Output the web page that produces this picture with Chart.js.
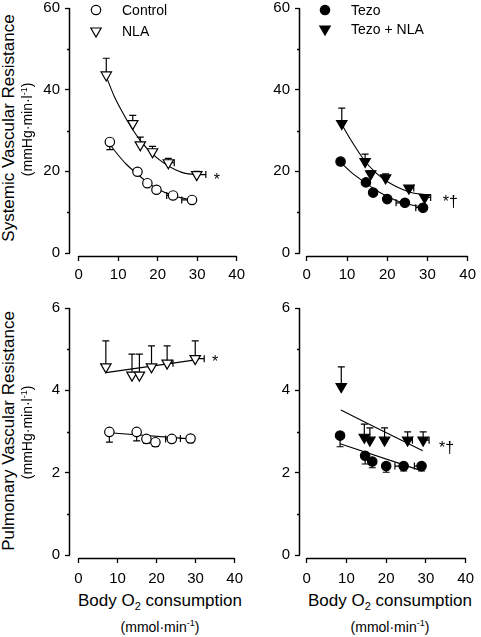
<!DOCTYPE html>
<html>
<head>
<meta charset="utf-8">
<script src="https://cdn.jsdelivr.net/npm/chart.js@4.4.0/dist/chart.umd.min.js"></script>
<style>
  body { margin: 0; width: 481px; height: 637px; background: #fff; position: relative; overflow: hidden;
         font-family: "Liberation Sans", Arial, sans-serif; color: #000; }
  canvas { position: absolute; }
  .rot { position: absolute; white-space: nowrap; text-align: center; transform: rotate(-90deg); }
  .xt { position: absolute; white-space: nowrap; text-align: center; }
  sub, sup { font-size: 65%; }
</style>
</head>
<body>
<canvas id="tl" width="220" height="296" style="left:30px;top:-6px"></canvas>
<canvas id="tr" width="221" height="296" style="left:260px;top:-6px"></canvas>
<canvas id="bl" width="220" height="296" style="left:30px;top:294px"></canvas>
<canvas id="br" width="221" height="296" style="left:260px;top:294px"></canvas>

<div class="rot" style="font-size:17px;width:300px;left:-141px;top:118px">Systemic Vascular Resistance</div>
<div class="rot" style="font-size:14px;width:200px;left:-73px;top:121px">(mmHg·min·l<sup>-1</sup>)</div>
<div class="rot" style="font-size:17px;width:300px;left:-141px;top:421px">Pulmonary Vascular Resistance</div>
<div class="rot" style="font-size:14px;width:200px;left:-73px;top:424px">(mmHg·min·l<sup>-1</sup>)</div>

<div class="xt" style="font-size:17px;width:240px;left:40px;top:591px">Body O<sub>2</sub> consumption</div>
<div class="xt" style="font-size:14px;width:240px;left:40px;top:618px">(mmol·min<sup>-1</sup>)</div>
<div class="xt" style="font-size:17px;width:240px;left:270px;top:591px">Body O<sub>2</sub> consumption</div>
<div class="xt" style="font-size:14px;width:240px;left:270px;top:618px">(mmol·min<sup>-1</sup>)</div>

<script>
// axes
const xTicks = [0, 10, 20, 30, 40];
const svrTicks = [0, 20, 40, 60];
const svrMinor = [10, 30, 50];
const pvrTicks = [0, 2, 4, 6];
const pvrMinor = [1, 3, 5];

// body O2 consumption (x) and its one-sided SEM
const ctlVO2 = [7.9, 14.9, 17.4, 19.7, 23.9, 28.7];
const ctlVO2Err = [0, 0, 0, 0, 1.6, 2.6];      // to the left
const nlaVO2 = [7.0, 13.7, 15.6, 18.7, 22.7, 29.9];
const nlaVO2Err = [0, 0, 0, 0, 1.5, 2.3];      // to the right
const tezoVO2 = [8.4, 14.7, 16.5, 20.0, 24.4, 28.9];
const tezoVO2Err = [0, 0, 0, 0, 2.2, 1.8];     // to the left
const tnVO2 = [8.7, 14.5, 15.9, 19.6, 25.4, 29.3];
const tnVO2Err = [0, 0, 0, 0, 1.2, 1.5];       // to the right

// systemic vascular resistance
const ctlSVR = [27.2, 19.9, 17.1, 15.5, 14.1, 13.0];
const ctlSVRErr = [1.9, 0.6, 0.5, 0.5, 0.5, 0.4];
const nlaSVR = [43.6, 31.7, 26.5, 24.8, 22.1, 19.2];
const nlaSVRErr = [4.1, 2.0, 1.9, 1.3, 1.1, 0.8];
const tezoSVR = [22.4, 17.3, 14.8, 13.2, 12.3, 11.1];
const tezoSVRErr = [0.8, 0.6, 0.5, 0.4, 0.4, 0.4];
const tnSVR = [31.7, 22.4, 19.4, 18.4, 15.9, 13.6];
const tnSVRErr = [3.8, 1.8, 0.8, 1.0, 0.6, 0.5];

// pulmonary vascular resistance
const ctlPVR = [2.99, 2.99, 2.82, 2.74, 2.82, 2.83];
const ctlPVRErr = [0.25, 0.22, 0.1, 0.1, 0.05, 0.1];
const nlaPVR = [4.57, 4.37, 4.37, 4.57, 4.66, 4.77];
const nlaPVRErr = [0.63, 0.51, 0.51, 0.51, 0.42, 0.43];
const tezoPVR = [2.90, 2.41, 2.27, 2.16, 2.16, 2.16];
const tezoPVRErr = [0.27, 0.2, 0.15, 0.15, 0.12, 0.12];
const tnPVR = [4.09, 2.86, 2.79, 2.79, 2.79, 2.79];
const tnPVRErr = [0.48, 0.32, 0.3, 0.3, 0.2, 0.2];

// fitted curves / regression lines
const ctlSVRFitX = [7.9, 10, 12, 14.8, 17.4, 20, 24, 28.7];
const ctlSVRFitY = [26.6, 24.0, 21.8, 19.4, 17.3, 15.7, 14.0, 13.0];
const nlaSVRFitX = [7.0, 9.1, 11.2, 13.2, 15.6, 18.4, 21.3, 24.5, 27.0, 30.1];
const nlaSVRFitY = [43.2, 38.2, 34.3, 31.0, 27.6, 24.5, 22.2, 20.4, 19.5, 19.2];
const tezoSVRFitX = [8.4, 11, 14.4, 18.4, 23.2, 28.9];
const tezoSVRFitY = [22.2, 19.8, 17.3, 14.7, 12.5, 11.2];
const tnSVRFitX = [8.7, 11, 14.4, 16.8, 19, 21.6, 24, 26.4, 29.3];
const tnSVRFitY = [31.5, 27.6, 22.6, 20.0, 18.2, 16.6, 15.5, 14.7, 14.3];
const ctlPVRFitX = [7.9, 28.7];
const ctlPVRFitY = [2.97, 2.82];
const nlaPVRFitX = [7.0, 30.0];
const nlaPVRFitY = [4.43, 4.74];
const tezoPVRFitX = [8.4, 28.8];
const tezoPVRFitY = [2.70, 2.05];
const tnPVRFitX = [8.6, 29.2];
const tnPVRFitY = [3.52, 2.53];

const pts = (xs, ys) => xs.map((v, i) => ({ x: v, y: ys[i] }));
const FONT = '"Liberation Sans", Arial, sans-serif';

function marker(ctx, style, x, y, r, fill) {
  ctx.beginPath();
  if (style === 'circle') {
    ctx.arc(x, y, r, 0, Math.PI * 2);
  } else {
    // downward triangle
    ctx.moveTo(x - r * 0.866, y - r * 0.5);
    ctx.lineTo(x + r * 0.866, y - r * 0.5);
    ctx.lineTo(x, y + r);
    ctx.closePath();
  }
  ctx.fillStyle = fill;
  ctx.fill();
  ctx.stroke();
}

const deco = {
  id: 'deco',
  beforeDatasetsDraw(chart, args, o) {
    const { ctx, chartArea: a, scales: { x, y } } = chart;
    ctx.save();
    ctx.strokeStyle = '#000';
    ctx.lineWidth = 1.5;
    ctx.beginPath();
    ctx.moveTo(x.getPixelForValue(xTicks[0]), a.bottom + 0.5);
    ctx.lineTo(x.getPixelForValue(xTicks[xTicks.length - 1]), a.bottom + 0.5);
    ctx.moveTo(a.left - 0.5, y.getPixelForValue(o.yTicks[0]));
    ctx.lineTo(a.left - 0.5, y.getPixelForValue(o.yTicks[o.yTicks.length - 1]));
    o.yMinor.forEach(v => {
      const py = Math.round(y.getPixelForValue(v)) + 0.5;
      ctx.moveTo(a.left - 3, py);
      ctx.lineTo(a.left, py);
    });
    ctx.stroke();

    ctx.lineWidth = 1.2;
    ctx.beginPath();
    o.errors.forEach(e => {
      e.x.forEach((xv, i) => {
        const px = x.getPixelForValue(xv), py = y.getPixelForValue(e.y[i]);
        if (e.yErr[i]) {
          const ey = y.getPixelForValue(e.y[i] + e.yDir * e.yErr[i]);
          ctx.moveTo(px, py); ctx.lineTo(px, ey);
          ctx.moveTo(px - 3.5, ey); ctx.lineTo(px + 3.5, ey);
        }
        if (e.xErr[i]) {
          const ex = x.getPixelForValue(xv + e.xDir * e.xErr[i]);
          ctx.moveTo(px, py); ctx.lineTo(ex, py);
          ctx.moveTo(ex, py - 3.5); ctx.lineTo(ex, py + 3.5);
        }
      });
    });
    ctx.stroke();
    ctx.restore();
  },
  afterDraw(chart, args, o) {
    const { ctx, chartArea: a, scales: { x, y } } = chart;
    ctx.save();
    ctx.strokeStyle = '#000';
    ctx.lineWidth = 1.2;
    o.legend.forEach((l, i) => {
      const ly = a.top + 2 + i * o.legendGap;
      const mx = a.left + o.legendX;
      marker(ctx, l.style, mx, ly, l.style === 'circle' ? 4.7 : 6, l.fill);
      ctx.fillStyle = '#000';
      ctx.font = '14px ' + FONT;
      ctx.textBaseline = 'middle';
      ctx.fillText(l.label, mx + 26, ly + 1);
    });
    ctx.font = '16px ' + FONT;
    ctx.textAlign = 'center';
    ctx.textBaseline = 'middle';
    ctx.fillStyle = '#000';
    ctx.fillText(o.mark.text, x.getPixelForValue(o.mark.x), y.getPixelForValue(o.mark.y) + 3);
    ctx.restore();
  }
};

function fitSet(xs, ys) {
  return { data: pts(xs, ys), showLine: true, pointRadius: 0, borderColor: '#000', borderWidth: 1.1,
           cubicInterpolationMode: 'monotone', order: 2 };
}
function pointSet(xs, ys, style, fill) {
  const tri = style !== 'circle';
  return { data: pts(xs, ys), showLine: false, pointStyle: tri ? 'triangle' : 'circle',
           pointRotation: tri ? 180 : 0, pointRadius: tri ? 6 : 4.7, pointBorderWidth: 1.2,
           pointBackgroundColor: fill, pointBorderColor: '#000', order: 1 };
}

function panel(id, p) {
  const yPx = (p.yBottom - p.yTop) / (p.yTicks[p.yTicks.length - 1]);
  const xPx = (p.xEnd - p.xStart) / 40;
  new Chart(document.getElementById(id), {
    type: 'scatter',
    data: { datasets: p.datasets },
    options: {
      responsive: false,
      animation: false,
      events: [],
      layout: { autoPadding: false, padding: { top: p.padTop, right: p.padRight, left: 0, bottom: 0 } },
      plugins: { legend: { display: false }, tooltip: { enabled: false }, deco: p.deco },
      scales: {
        x: {
          min: -p.xGap / xPx, max: 40,
          afterBuildTicks: s => { s.ticks = xTicks.map(v => ({ value: v })); },
          afterFit: s => { s.height = p.xHeight; },
          border: { display: false },
          grid: { drawOnChartArea: false, tickLength: 5, tickColor: '#000', tickWidth: 1.3 },
          ticks: { color: '#000', font: { family: FONT, size: 15 }, padding: p.xPad, maxRotation: 0 }
        },
        y: {
          min: -p.yGap / yPx, max: p.yTicks[p.yTicks.length - 1],
          afterBuildTicks: s => { s.ticks = p.yTicks.map(v => ({ value: v })); },
          afterFit: s => { s.width = 40; },
          border: { display: false },
          grid: { drawOnChartArea: false, tickLength: 5, tickColor: '#000', tickWidth: 1.3 },
          ticks: { color: '#000', font: { family: FONT, size: 15 }, padding: 5 }
        }
      }
    },
    plugins: [deco]
  });
}

panel('tl', {
  yTicks: svrTicks, yTop: 6, yBottom: 253, yGap: 3, xStart: 79, xEnd: 244, xGap: 9,
  padTop: 6, padRight: 6, xHeight: 34, xPad: 5,
  datasets: [fitSet(ctlSVRFitX, ctlSVRFitY), fitSet(nlaSVRFitX, nlaSVRFitY),
             pointSet(ctlVO2, ctlSVR, 'circle', '#fff'), pointSet(nlaVO2, nlaSVR, 'triangle', '#fff')],
  deco: {
    yTicks: svrTicks, yMinor: svrMinor,
    errors: [
      { x: ctlVO2, y: ctlSVR, yErr: ctlSVRErr, yDir: -1, xErr: ctlVO2Err, xDir: -1 },
      { x: nlaVO2, y: nlaSVR, yErr: nlaSVRErr, yDir: 1, xErr: nlaVO2Err, xDir: 1 }
    ],
    legend: [{ label: 'Control', style: 'circle', fill: '#fff' }, { label: 'NLA', style: 'triangle', fill: '#fff' }],
    legendX: 26, legendGap: 21,
    mark: { text: '*', x: 35, y: 18.5 }
  }
});

panel('tr', {
  yTicks: svrTicks, yTop: 6, yBottom: 253, yGap: 3, xStart: 307, xEnd: 473, xGap: 7,
  padTop: 6, padRight: 8, xHeight: 34, xPad: 5,
  datasets: [fitSet(tezoSVRFitX, tezoSVRFitY), fitSet(tnSVRFitX, tnSVRFitY),
             pointSet(tezoVO2, tezoSVR, 'circle', '#000'), pointSet(tnVO2, tnSVR, 'triangle', '#000')],
  deco: {
    yTicks: svrTicks, yMinor: svrMinor,
    errors: [
      { x: tezoVO2, y: tezoSVR, yErr: tezoSVRErr, yDir: -1, xErr: tezoVO2Err, xDir: -1 },
      { x: tnVO2, y: tnSVR, yErr: tnSVRErr, yDir: 1, xErr: tnVO2Err, xDir: 1 }
    ],
    legend: [{ label: 'Tezo', style: 'circle', fill: '#000' }, { label: 'Tezo + NLA', style: 'triangle', fill: '#000' }],
    legendX: 25, legendGap: 19,
    mark: { text: '*†', x: 35.7, y: 13.1 }
  }
});

panel('bl', {
  yTicks: pvrTicks, yTop: 308, yBottom: 555, yGap: 3, xStart: 79, xEnd: 244, xGap: 9,
  padTop: 8, padRight: 6, xHeight: 32, xPad: 7,
  datasets: [fitSet(ctlPVRFitX, ctlPVRFitY), fitSet(nlaPVRFitX, nlaPVRFitY),
             pointSet(ctlVO2, ctlPVR, 'circle', '#fff'), pointSet(nlaVO2, nlaPVR, 'triangle', '#fff')],
  deco: {
    yTicks: pvrTicks, yMinor: pvrMinor,
    errors: [
      { x: ctlVO2, y: ctlPVR, yErr: ctlPVRErr, yDir: -1, xErr: ctlVO2Err, xDir: -1 },
      { x: nlaVO2, y: nlaPVR, yErr: nlaPVRErr, yDir: 1, xErr: nlaVO2Err, xDir: 1 }
    ],
    legend: [],
    legendX: 0, legendGap: 0,
    mark: { text: '*', x: 35, y: 4.74 }
  }
});

panel('br', {
  yTicks: pvrTicks, yTop: 308, yBottom: 555, yGap: 3, xStart: 307, xEnd: 473, xGap: 7,
  padTop: 8, padRight: 8, xHeight: 32, xPad: 7,
  datasets: [fitSet(tezoPVRFitX, tezoPVRFitY), fitSet(tnPVRFitX, tnPVRFitY),
             pointSet(tezoVO2, tezoPVR, 'circle', '#000'), pointSet(tnVO2, tnPVR, 'triangle', '#000')],
  deco: {
    yTicks: pvrTicks, yMinor: pvrMinor,
    errors: [
      { x: tezoVO2, y: tezoPVR, yErr: tezoPVRErr, yDir: -1, xErr: tezoVO2Err, xDir: -1 },
      { x: tnVO2, y: tnPVR, yErr: tnPVRErr, yDir: 1, xErr: tnVO2Err, xDir: 1 }
    ],
    legend: [],
    legendX: 0, legendGap: 0,
    mark: { text: '*†', x: 35.2, y: 2.65 }
  }
});
</script>
</body>
</html>
